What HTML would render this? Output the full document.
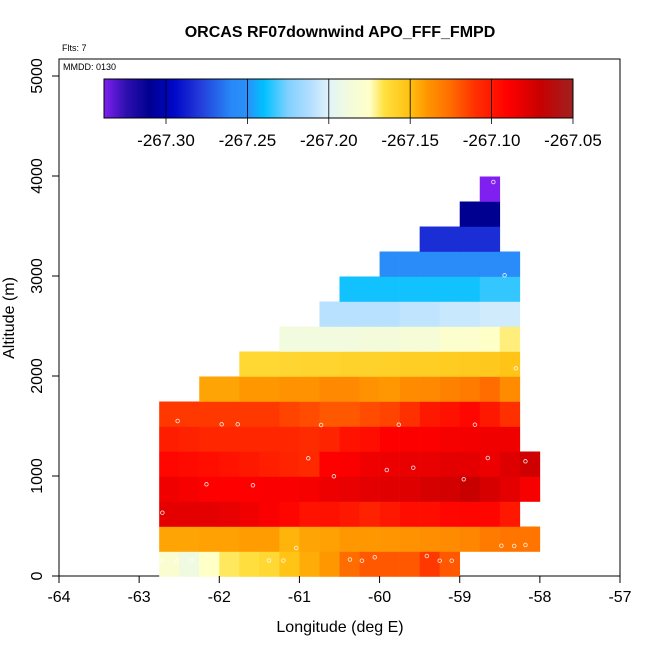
<!DOCTYPE html>
<html><head><meta charset="utf-8"><style>body{margin:0;background:#fff}svg{display:block;font-family:"Liberation Sans",sans-serif}</style></head>
<body>
<svg id="chart" width="650" height="650" xmlns="http://www.w3.org/2000/svg">
<text x="340" y="37" text-anchor="middle" font-size="16" font-weight="bold">ORCAS RF07downwind APO_FFF_FMPD</text>
<text x="62" y="51" font-size="9">Flts: 7</text>
<rect x="59" y="59" width="561" height="517" fill="none" stroke="#000" stroke-width="1"/>
<text x="63" y="70" font-size="9">MMDD: 0130</text>
<g id="cells"></g>
<g id="pts"></g>
<g id="axes"></g>
<g id="cbar"></g>
<text x="340" y="632" text-anchor="middle" font-size="16">Longitude (deg E)</text>
<text transform="translate(14,318) rotate(-90)" text-anchor="middle" font-size="16">Altitude (m)</text>
</svg>
<script>
const rowStarts=[-62.75,-62.75,-62.75,-62.75,-62.75,-62.75,-62.75,-62.25,-61.75,-61.25,-60.75,-60.5,-60.0,-59.5,-59.0,-58.75];
const row0=[-267.18,-267.19,-267.175,-267.168,-267.165,-267.162,-267.152,-267.145,-267.14,-267.125,-267.12,-267.12,-267.12,-267.112,-267.12];
const row1=[-267.143,-267.143,-267.142,-267.142,-267.141,-267.141,-267.147,-267.143,-267.142,-267.14,-267.14,-267.139,-267.138,-267.137,-267.136,-267.134,-267.13,-267.128,-267.128];
const row2=[-267.08,-267.08,-267.08,-267.082,-267.085,-267.088,-267.092,-267.098,-267.097,-267.1,-267.104,-267.1,-267.096,-267.096,-267.093,-267.092,-267.092,-267.1];
const row3=[-267.085,-267.087,-267.09,-267.09,-267.09,-267.088,-267.088,-267.087,-267.084,-267.082,-267.08,-267.079,-267.078,-267.075,-267.074,-267.07,-267.075,-267.08,-267.087];
const row4=[-267.093,-267.094,-267.096,-267.098,-267.1,-267.103,-267.105,-267.107,-267.09,-267.088,-267.085,-267.083,-267.082,-267.082,-267.08,-267.08,-267.083,-267.078,-267.072];
const row5=[-267.102,-267.104,-267.106,-267.106,-267.106,-267.106,-267.106,-267.108,-267.105,-267.098,-267.096,-267.09,-267.089,-267.089,-267.087,-267.086,-267.085,-267.085];
const row6=[-267.112,-267.112,-267.112,-267.112,-267.112,-267.112,-267.115,-267.117,-267.12,-267.12,-267.117,-267.115,-267.11,-267.1,-267.097,-267.093,-267.1,-267.11];
const row7=[-267.143,-267.143,-267.14,-267.14,-267.138,-267.138,-267.135,-267.135,-267.138,-267.14,-267.136,-267.135,-267.132,-267.13,-267.125,-267.136];
const row8=[-267.162,-267.162,-267.161,-267.16,-267.16,-267.159,-267.159,-267.158,-267.157,-267.157,-267.156,-267.155,-267.154,-267.152];
const row9=[-267.188,-267.188,-267.188,-267.188,-267.186,-267.186,-267.184,-267.184,-267.178,-267.178,-267.175,-267.17];
const row10=[-267.21,-267.21,-267.21,-267.21,-267.208,-267.208,-267.206,-267.206,-267.204,-267.204];
const row11=[-267.238,-267.238,-267.238,-267.238,-267.238,-267.238,-267.238,-267.234,-267.234];
const row12=[-267.255,-267.255,-267.255,-267.255,-267.255,-267.255,-267.255];
const row13=[-267.283,-267.283,-267.283,-267.283];
const row14=[-267.31,-267.31];
const row15=[-267.34];
const rows=[row0,row1,row2,row3,row4,row5,row6,row7,row8,row9,row10,row11,row12,row13,row14,row15];
const ptLon=[-62.52,-61.97,-61.77,-60.73,-59.76,-58.81,-60.89,-58.65,-58.18,-60.57,-59.91,-59.58,-58.95,-62.16,-61.58,-62.71,-61.04,-58.48,-58.32,-58.18,-62.71,-62.53,-62.35,-61.38,-61.2,-60.37,-60.22,-60.06,-59.41,-59.25,-59.1,-58.58,-58.44,-58.3];
const ptAlt=[1550,1517,1517,1510,1513,1513,1177,1180,1147,997,1060,1083,967,917,907,633,280,303,300,310,155,155,155,155,155,165,153,187,200,153,153,3940,3007,2077];
const xTicks=[-64,-63,-62,-61,-60,-59,-58,-57];
const yTicks=[0,1000,2000,3000,4000,5000];
const cbTicks=["-267.30","-267.25","-267.20","-267.15","-267.10","-267.05"];
const stopV=[-267.34,-267.325,-267.31,-267.295,-267.28,-267.26,-267.25,-267.24,-267.225,-267.21,-267.2,-267.19,-267.175,-267.166,-267.15,-267.14,-267.125,-267.11,-267.1,-267.09,-267.07,-267.05];
const stopC=["#8020f0","#3010b0","#000090","#0008c8","#2238d8","#2888f8","#2a90f8","#00c0ff","#80d0ff","#b8e0ff","#e0f4fa","#f0fae0","#ffffc8","#ffe040","#ffc010","#ff9800","#ff6c00","#ff3000","#ff1800","#ff0000","#c80000","#a02020"];
const NS="http://www.w3.org/2000/svg";
const X=v=>59+(v+64)*561/7, Y=a=>576-a*0.1;
const CX=v=>166+(v+267.30)*(573-166)/0.25;
function hx(c){return [1,3,5].map(i=>parseInt(c.substr(i,2),16));}
function col(v){if(v<=stopV[0])return stopC[0];for(let i=1;i<stopV.length;i++){if(v<=stopV[i]){const t=(v-stopV[i-1])/(stopV[i]-stopV[i-1]);const a=hx(stopC[i-1]),b=hx(stopC[i]);return "rgb("+a.map((x,k)=>Math.round(x+(b[k]-x)*t)).join(",")+")";}}return stopC[stopC.length-1];}
function el(t,at,p){const e=document.createElementNS(NS,t);for(const k in at)e.setAttribute(k,at[k]);p.appendChild(e);return e;}
const cells=document.getElementById('cells');
rows.forEach((r,ri)=>{r.forEach((v,ci)=>{const x0=X(rowStarts[ri]+ci*0.25),x1=X(rowStarts[ri]+(ci+1)*0.25);
const e=el('rect',{x:x0,y:Y((ri+1)*250)+0.5,width:x1-x0+0.3,height:25.3,fill:col(v)},cells);

});});
const pts=document.getElementById('pts');
ptLon.forEach((lo,i)=>{const e=el('circle',{cx:X(lo),cy:Y(ptAlt[i]),r:1.8,fill:'none',stroke:'#fff','stroke-opacity':0.8,'stroke-width':0.9},pts);

});
const ax=document.getElementById('axes');
xTicks.forEach(t=>{const x=X(t);el('line',{x1:x,x2:x,y1:576,y2:583,stroke:'#000'},ax);
const tx=el('text',{x:x,y:602,'text-anchor':'middle','font-size':16},ax);tx.textContent=t;

});
yTicks.forEach(t=>{const y=Y(t);el('line',{x1:52,x2:59,y1:y,y2:y,stroke:'#000'},ax);
const tx=el('text',{transform:`translate(42,${y}) rotate(-90)`,'text-anchor':'middle','font-size':16},ax);tx.textContent=t;

});
const cb=document.getElementById('cbar');
const defs=el('defs',{},cb);const g=el('linearGradient',{id:'cbg',x1:0,x2:1,y1:0,y2:0},defs);
const cb0=104,cb1=573;
stopV.forEach((v,i)=>el('stop',{offset:(CX(v)-cb0)/(cb1-cb0),'stop-color':stopC[i]},g));
el('rect',{x:cb0,y:79,width:cb1-cb0,height:39,fill:'url(#cbg)',stroke:'#000','stroke-width':1},cb);
cbTicks.forEach(t=>{const x=CX(parseFloat(t));el('line',{x1:x,x2:x,y1:79,y2:124,stroke:'#000','stroke-width':0.8},cb);
const tx=el('text',{x:x,y:146,'text-anchor':'middle','font-size':17},cb);tx.textContent=t;

});
</script>
</body></html>
